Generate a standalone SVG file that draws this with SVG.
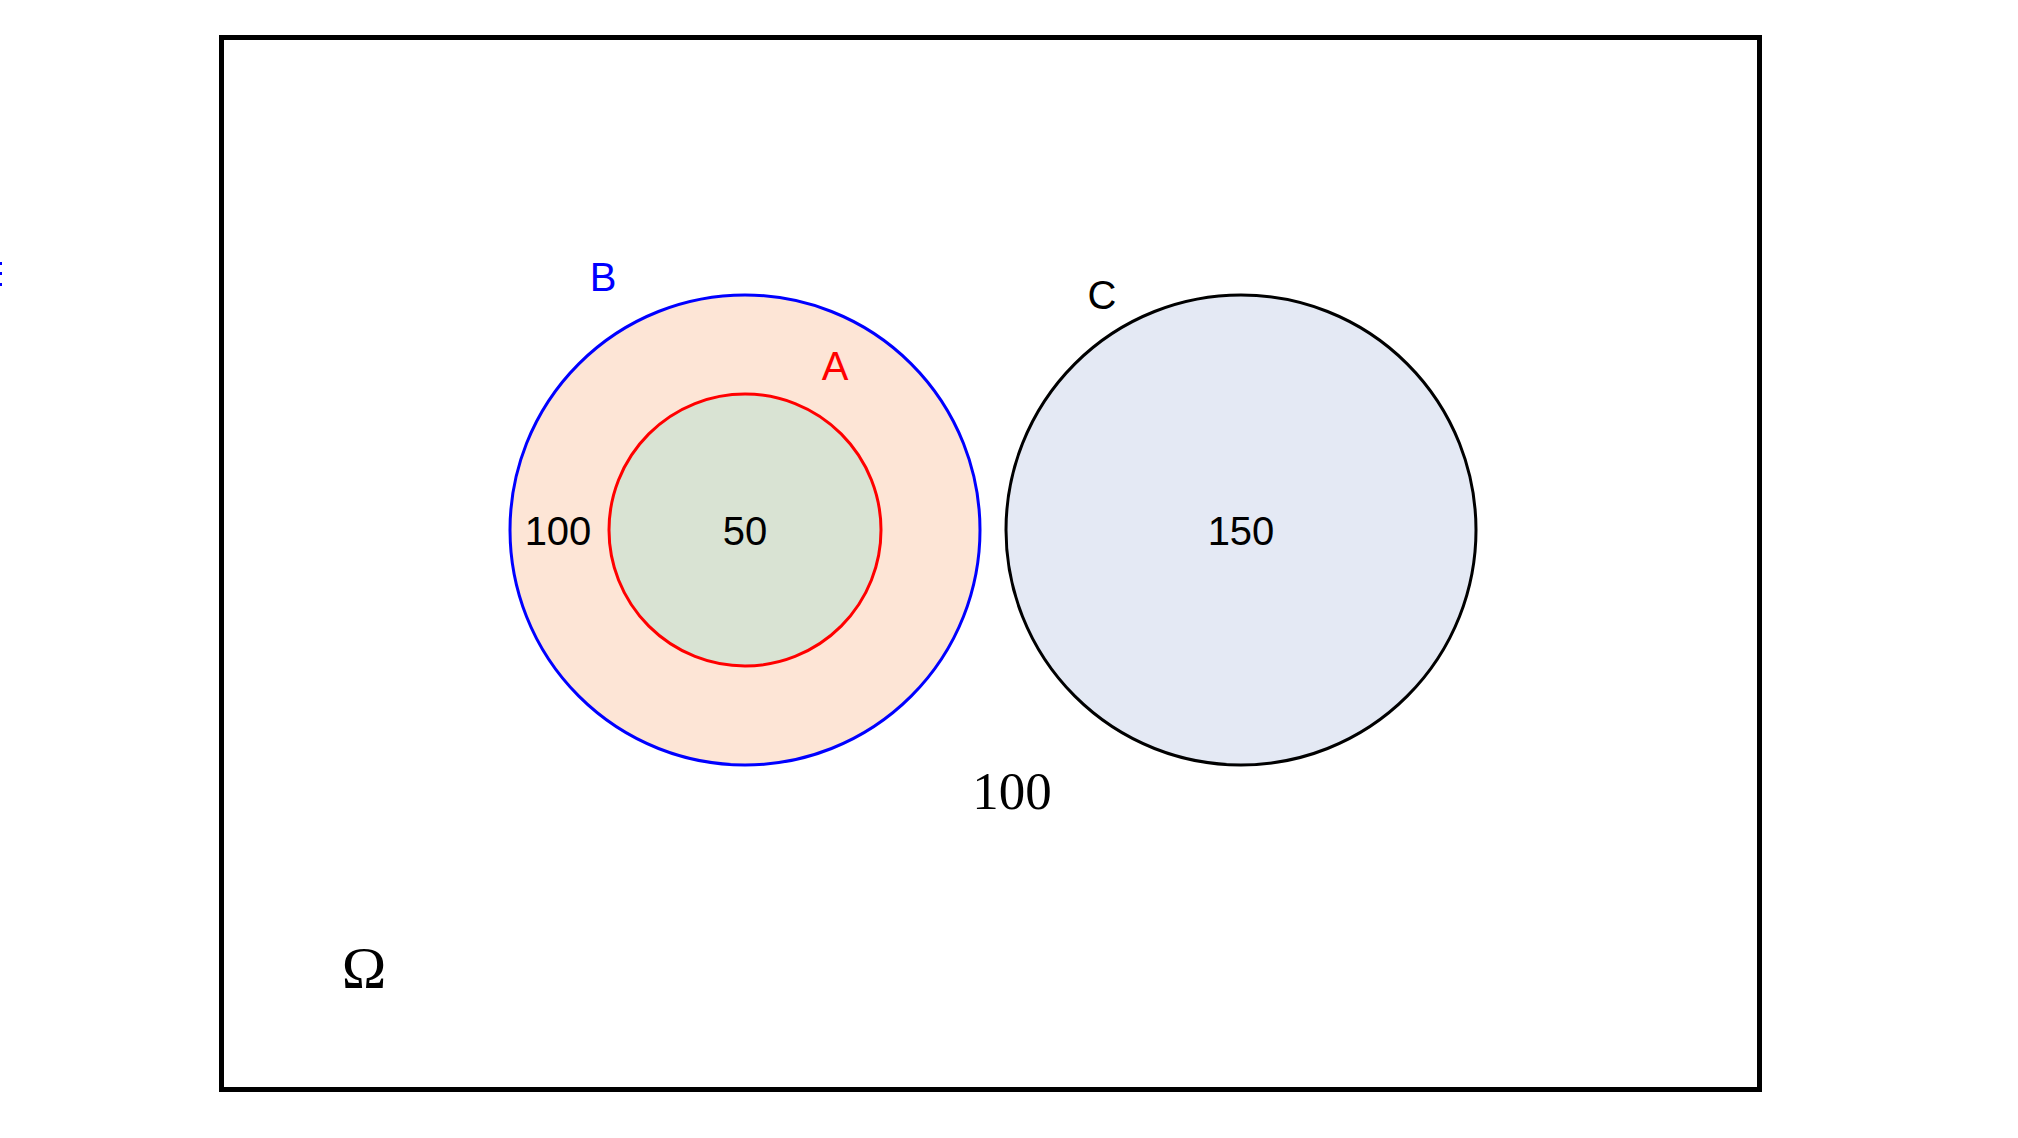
<svg xmlns="http://www.w3.org/2000/svg" width="2018" height="1138" viewBox="0 0 2018 1138">
<style>
.lbl{font-family:"Liberation Sans",Arial,sans-serif;font-size:40px;text-anchor:middle}
.ser{font-family:"Liberation Serif","Times New Roman",serif;text-anchor:middle;fill:#000}
</style>
<rect width="2018" height="1138" fill="#fff"/>
<g id="omega-frame">
<rect x="221.5" y="37.5" width="1538" height="1052" fill="none" stroke="#000" stroke-width="5"/>
<text class="ser" x="364" y="988" font-size="60">Ω</text>
<text class="ser" x="1012" y="809" font-size="53">100</text>
</g>
<g id="edge-marks" fill="#0000ff">
<rect x="0" y="262" width="2" height="3"/>
<rect x="0" y="272" width="2" height="3"/>
<rect x="0" y="283" width="2" height="3"/>
</g>
<g id="B">
<circle cx="745" cy="530" r="235" fill="#fde5d6" stroke="#0000ff" stroke-width="3"/>
<text class="lbl" x="603" y="291" fill="#0000ff">B</text>
<text class="lbl" x="558" y="545" fill="#000">100</text>
</g>
<g id="A">
<circle cx="745" cy="530" r="136" fill="#d9e3d3" stroke="#ff0000" stroke-width="3"/>
<text class="lbl" x="835" y="380" fill="#ff0000">A</text>
<text class="lbl" x="745" y="545" fill="#000">50</text>
</g>
<g id="C">
<circle cx="1241" cy="530" r="235" fill="#e4e9f4" stroke="#000" stroke-width="3"/>
<text class="lbl" x="1102" y="309" fill="#000">C</text>
<text class="lbl" x="1241" y="545" fill="#000">150</text>
</g>
<g id="connectors"/>
</svg>
